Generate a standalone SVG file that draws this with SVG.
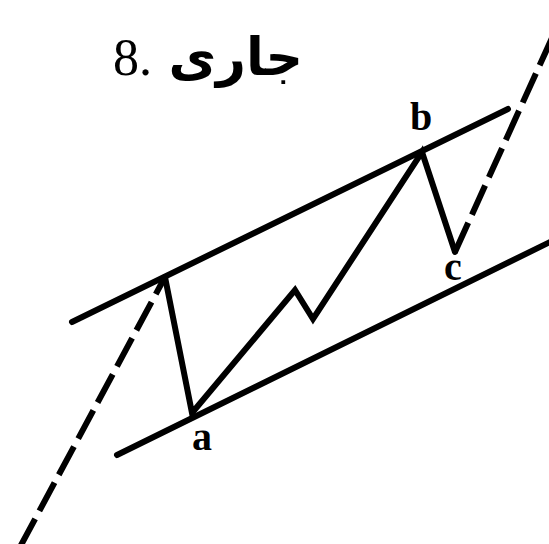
<svg xmlns="http://www.w3.org/2000/svg" width="549" height="544" viewBox="0 0 549 544">
<style>
.ln{stroke:#000;stroke-width:6;fill:none;stroke-linecap:round;stroke-linejoin:miter}
.ds{stroke:#000;stroke-width:6;fill:none;stroke-dasharray:32 9}
.lb{font-family:"Liberation Serif",serif;font-weight:bold;font-size:40px;fill:#000;text-anchor:middle}
.tt{font-family:"Liberation Serif","DejaVu Serif","DejaVu Sans",serif;font-size:52px;fill:#000}
</style>
<rect width="549" height="544" fill="#fff"/>
<g id="title">
<text class="tt" x="113" y="75">8.</text>
<text class="tt" x="303" y="75" font-weight="bold" text-anchor="end">جاری</text>
</g>
<g id="connectors">
<line class="ln" x1="72" y1="322" x2="508" y2="109"/>
<line class="ln" x1="117" y1="455" x2="552" y2="241"/>
<path class="ds" d="M20,547 L165,277"/>
<path class="ds" d="M455,252 L552,38"/>
<polyline class="ln" points="165,277 192,413 295,290 313,319 422,152 455,252"/>
</g>
<g id="label-a"><text class="lb" x="202" y="450">a</text></g>
<g id="label-b"><text class="lb" x="421" y="130">b</text></g>
<g id="label-c"><text class="lb" x="453" y="280">c</text></g>
</svg>
